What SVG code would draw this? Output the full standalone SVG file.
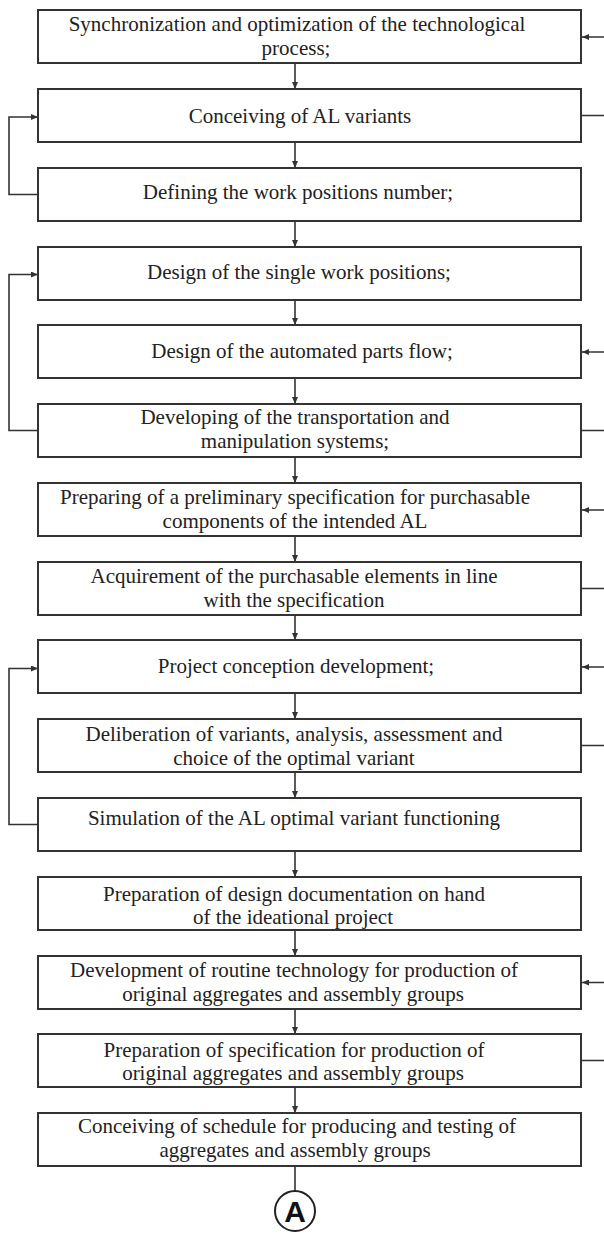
<svg xmlns="http://www.w3.org/2000/svg" width="604" height="1235" viewBox="0 0 604 1235">
<style>
.box{fill:#fff;stroke:#333;stroke-width:2}
.t{font-family:"Liberation Serif","Times New Roman",serif;font-size:21px;fill:#222;text-anchor:middle}
.c{fill:none;stroke:#333;stroke-width:1.6}
.a{fill:none;stroke:#333;stroke-width:1.6;marker-end:url(#ah)}
</style>
<defs>
<marker id="ah" markerUnits="userSpaceOnUse" markerWidth="8" markerHeight="6" refX="7" refY="3" orient="auto">
<path d="M0,0 L7,3 L0,6 z" fill="#333"/>
</marker>
</defs>
<rect width="604" height="1235" fill="#fff"/>
<g id="connectors">
<path class="a" d="M295,63 V89"/>
<path class="a" d="M295,142 V168"/>
<path class="a" d="M295,221 V247"/>
<path class="a" d="M295,300 V325"/>
<path class="a" d="M295,378 V404"/>
<path class="a" d="M295,457 V483"/>
<path class="a" d="M295,536 V562"/>
<path class="a" d="M295,615 V640"/>
<path class="a" d="M295,693 V719"/>
<path class="a" d="M295,772 V798"/>
<path class="a" d="M295,851 V877"/>
<path class="a" d="M295,930 V956"/>
<path class="a" d="M295,1009 V1034"/>
<path class="a" d="M295,1087 V1113"/>
<path class="c" d="M295,1166 V1191"/>
<path class="a" d="M38,194.5 H9 V117 H38"/>
<path class="a" d="M38,430.5 H9 V274.5 H38"/>
<path class="a" d="M38,824.5 H9 V668.5 H38"/>
<path class="a" d="M582,115.5 H612 V37 H582"/>
<path class="a" d="M582,430.5 H612 V352 H582"/>
<path class="a" d="M582,588.5 H612 V510 H582"/>
<path class="a" d="M582,745.5 H612 V667 H582"/>
<path class="a" d="M582,1060.5 H612 V982.5 H582"/>
</g>
<g id="n1"><rect class="box" x="38" y="10" width="543" height="53"/><text class="t" x="297" y="31">Synchronization and optimization of the technological</text><text class="t" x="296" y="55">process;</text></g>
<g id="n2"><rect class="box" x="38" y="89" width="543" height="53"/><text class="t" x="300" y="123">Conceiving of AL variants</text></g>
<g id="n3"><rect class="box" x="38" y="168" width="543" height="53"/><text class="t" x="298" y="199">Defining the work positions number;</text></g>
<g id="n4"><rect class="box" x="38" y="247" width="543" height="53"/><text class="t" x="299" y="279">Design of the single work positions;</text></g>
<g id="n5"><rect class="box" x="38" y="325" width="543" height="53"/><text class="t" x="302" y="358">Design of the automated parts flow;</text></g>
<g id="n6"><rect class="box" x="38" y="404" width="543" height="53"/><text class="t" x="295" y="424">Developing of the transportation and</text><text class="t" x="295" y="447.5">manipulation systems;</text></g>
<g id="n7"><rect class="box" x="38" y="483" width="543" height="53"/><text class="t" x="295" y="504">Preparing of a preliminary specification for purchasable</text><text class="t" x="295" y="527.5">components of the intended AL</text></g>
<g id="n8"><rect class="box" x="38" y="562" width="543" height="53"/><text class="t" x="294" y="583">Acquirement of the purchasable elements in line</text><text class="t" x="294" y="606.5">with the specification</text></g>
<g id="n9"><rect class="box" x="38" y="640" width="543" height="53"/><text class="t" x="296" y="673">Project conception development;</text></g>
<g id="n10"><rect class="box" x="38" y="719" width="543" height="53"/><text class="t" x="294" y="741">Deliberation of variants, analysis, assessment and</text><text class="t" x="294" y="764.5">choice of the optimal variant</text></g>
<g id="n11"><rect class="box" x="38" y="798" width="543" height="53"/><text class="t" x="294" y="825">Simulation of the AL optimal variant functioning</text></g>
<g id="n12"><rect class="box" x="38" y="877" width="543" height="53"/><text class="t" x="294" y="900.5">Preparation of design documentation on hand</text><text class="t" x="293" y="924">of the ideational project</text></g>
<g id="n13"><rect class="box" x="38" y="956" width="543" height="53"/><text class="t" x="294" y="977">Development of routine technology for production of</text><text class="t" x="293" y="1000.5">original aggregates and assembly groups</text></g>
<g id="n14"><rect class="box" x="38" y="1034" width="543" height="53"/><text class="t" x="294" y="1056.5">Preparation of specification for production of</text><text class="t" x="293" y="1080">original aggregates and assembly groups</text></g>
<g id="n15"><rect class="box" x="38" y="1113" width="543" height="53"/><text class="t" x="297" y="1133">Conceiving of schedule for producing and testing of</text><text class="t" x="295" y="1156.5">aggregates and assembly groups</text></g>
<g id="nA"><circle cx="295" cy="1211" r="20" fill="#fff" stroke="#222" stroke-width="2"/><text x="295" y="1222" font-family="Liberation Sans, Arial, sans-serif" font-weight="bold" font-size="30" text-anchor="middle" fill="#111">A</text></g>
</svg>
